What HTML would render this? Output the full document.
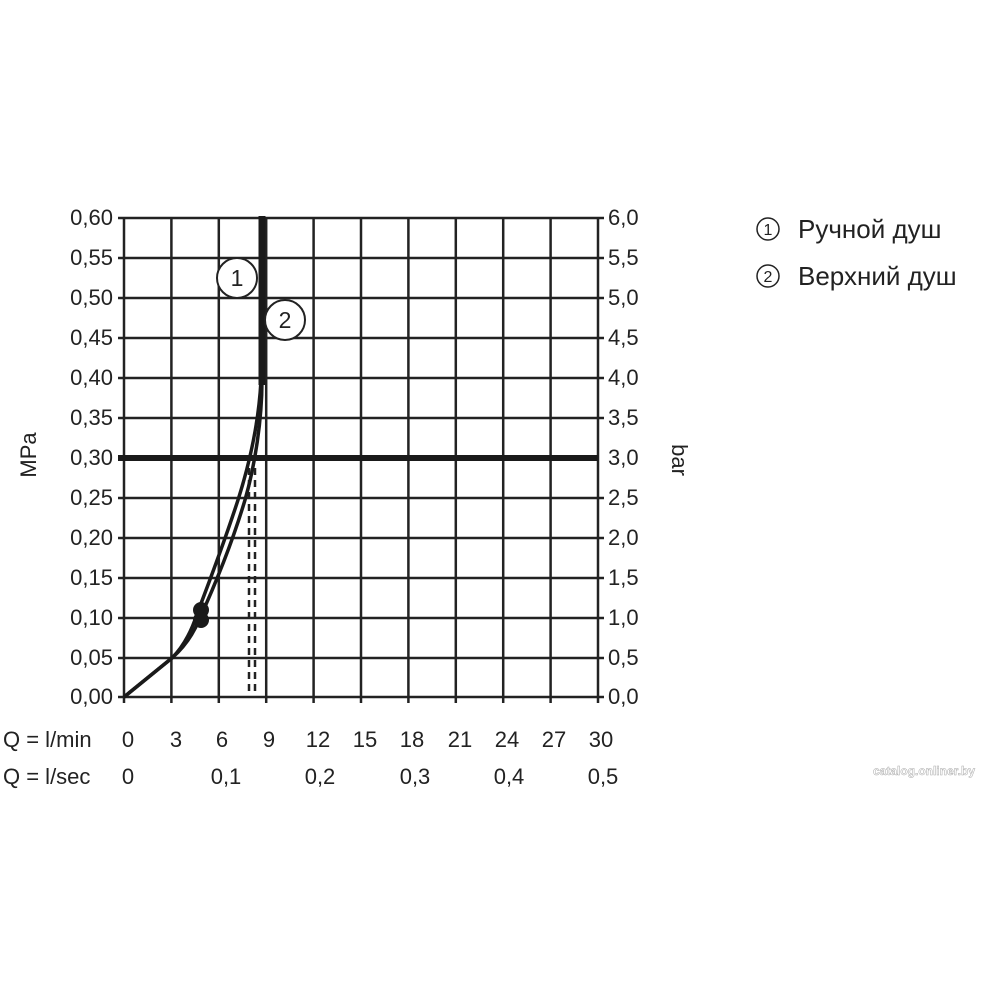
<!DOCTYPE html>
<html><head><meta charset="utf-8"><style>body{margin:0;background:#fff}</style></head><body>
<svg width="1000" height="1000" xmlns="http://www.w3.org/2000/svg" font-family="Liberation Sans, sans-serif" font-size="22" fill="#222">
<rect width="1000" height="1000" fill="#fff"/>
<g stroke="#222" stroke-width="2.5">
<line x1="124" y1="218" x2="124" y2="703"/><line x1="171.4" y1="218" x2="171.4" y2="703"/><line x1="218.8" y1="218" x2="218.8" y2="703"/><line x1="266.2" y1="218" x2="266.2" y2="703"/><line x1="313.6" y1="218" x2="313.6" y2="703"/><line x1="361" y1="218" x2="361" y2="703"/><line x1="408.4" y1="218" x2="408.4" y2="703"/><line x1="455.8" y1="218" x2="455.8" y2="703"/><line x1="503.2" y1="218" x2="503.2" y2="703"/><line x1="550.6" y1="218" x2="550.6" y2="703"/><line x1="598" y1="218" x2="598" y2="703"/>
<line x1="118" y1="218" x2="604" y2="218"/><line x1="118" y1="258" x2="604" y2="258"/><line x1="118" y1="298" x2="604" y2="298"/><line x1="118" y1="338" x2="604" y2="338"/><line x1="118" y1="378" x2="604" y2="378"/><line x1="118" y1="418" x2="604" y2="418"/><line x1="118" y1="498" x2="604" y2="498"/><line x1="118" y1="538" x2="604" y2="538"/><line x1="118" y1="578" x2="604" y2="578"/><line x1="118" y1="618" x2="604" y2="618"/><line x1="118" y1="658" x2="604" y2="658"/><line x1="118" y1="697" x2="604" y2="697"/>
</g>
<line x1="118" y1="458" x2="598" y2="458" stroke="#1a1a1a" stroke-width="6"/>
<g stroke="#222" stroke-width="2.5" stroke-dasharray="7,5" fill="none">
<line x1="249" y1="468" x2="249" y2="697"/><line x1="255" y1="468" x2="255" y2="697"/>
</g>
<line x1="262" y1="216" x2="262" y2="385" stroke="#1a1a1a" stroke-width="7"/>
<g fill="none" stroke="#1a1a1a" stroke-width="3.5">
<path d="M124,697 L172,658 Q190,642 199,620 C215,585 233,540 245,500 C255,465 262,420 262,380"/>
<path d="M124,697 L172,658 Q188,642 197,614 C210,580 225,540 238,500 C250,462 259,420 261,380"/>
</g>
<circle cx="201" cy="610" r="8" fill="#1a1a1a"/><circle cx="201" cy="620" r="8" fill="#1a1a1a"/>
<circle cx="237" cy="278" r="20" fill="#fff" stroke="#222" stroke-width="2"/><text x="237" y="286" text-anchor="middle" font-size="23">1</text>
<circle cx="285" cy="320" r="20" fill="#fff" stroke="#222" stroke-width="2"/><text x="285" y="328" text-anchor="middle" font-size="23">2</text>
<g text-anchor="end">
<text x="113" y="225">0,60</text><text x="113" y="265">0,55</text><text x="113" y="305">0,50</text><text x="113" y="345">0,45</text><text x="113" y="385">0,40</text><text x="113" y="425">0,35</text><text x="113" y="465">0,30</text><text x="113" y="505">0,25</text><text x="113" y="545">0,20</text><text x="113" y="585">0,15</text><text x="113" y="625">0,10</text><text x="113" y="665">0,05</text><text x="113" y="704">0,00</text>
</g>
<g>
<text x="608" y="225">6,0</text><text x="608" y="265">5,5</text><text x="608" y="305">5,0</text><text x="608" y="345">4,5</text><text x="608" y="385">4,0</text><text x="608" y="425">3,5</text><text x="608" y="465">3,0</text><text x="608" y="505">2,5</text><text x="608" y="545">2,0</text><text x="608" y="585">1,5</text><text x="608" y="625">1,0</text><text x="608" y="665">0,5</text><text x="608" y="704">0,0</text>
</g>
<text transform="translate(36,455) rotate(-90)" text-anchor="middle">MPa</text>
<text transform="translate(672,460) rotate(90)" text-anchor="middle">bar</text>
<text x="3" y="747">Q = l/min</text>
<g text-anchor="middle">
<text x="128" y="747">0</text><text x="176" y="747">3</text><text x="222" y="747">6</text><text x="269" y="747">9</text><text x="318" y="747">12</text><text x="365" y="747">15</text><text x="412" y="747">18</text><text x="460" y="747">21</text><text x="507" y="747">24</text><text x="554" y="747">27</text><text x="601" y="747">30</text>
</g>
<text x="3" y="784">Q = l/sec</text>
<g text-anchor="middle">
<text x="128" y="784">0</text><text x="226" y="784">0,1</text><text x="320" y="784">0,2</text><text x="415" y="784">0,3</text><text x="509" y="784">0,4</text><text x="603" y="784">0,5</text>
</g>
<g font-size="26">
<circle cx="768" cy="229" r="11" fill="none" stroke="#222" stroke-width="1.5"/><text x="768" y="235" font-size="16" text-anchor="middle">1</text>
<text x="798" y="238">Ручной душ</text>
<circle cx="768" cy="276" r="11" fill="none" stroke="#222" stroke-width="1.5"/><text x="768" y="282" font-size="16" text-anchor="middle">2</text>
<text x="798" y="285">Верхний душ</text>
</g>
<text x="975" y="775" font-size="12" font-weight="bold" fill="#fff" stroke="#aaa" stroke-width="0.5" text-anchor="end">catalog.onliner.by</text>
</svg>
</body></html>
